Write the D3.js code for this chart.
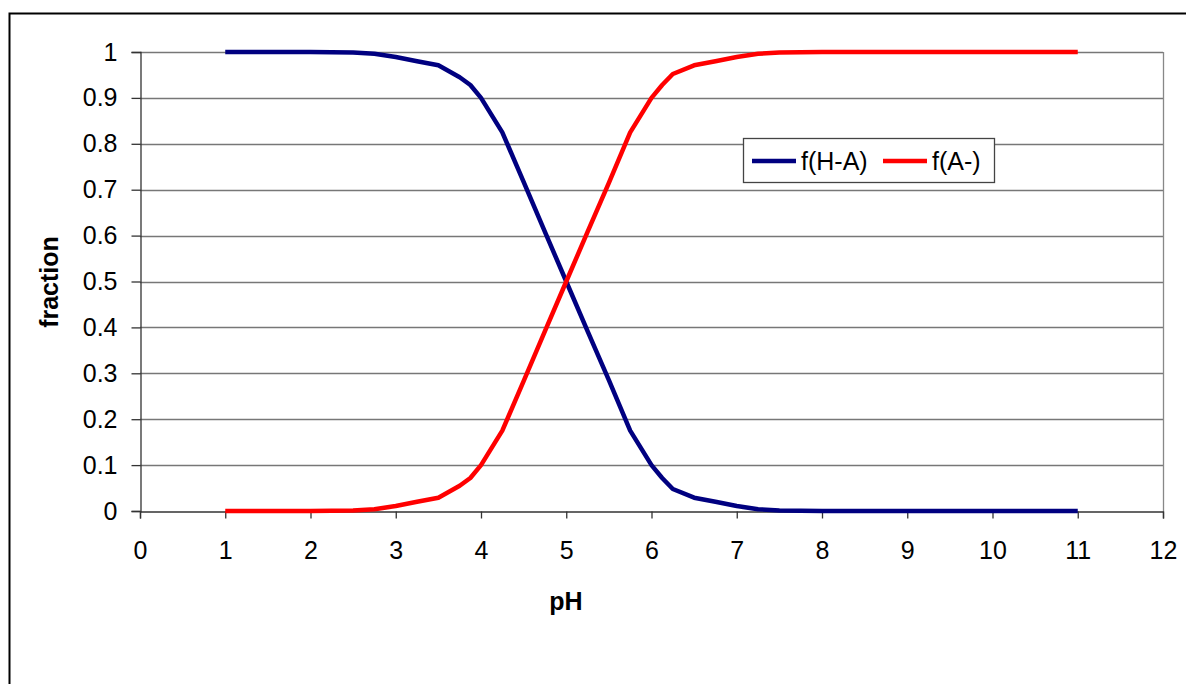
<!DOCTYPE html>
<html>
<head>
<meta charset="utf-8">
<script src="https://cdn.jsdelivr.net/npm/d3@7"></script>
<style>
  body { margin: 0; background: #fff; }
  text { font-family: Arial, 'Liberation Sans', sans-serif; }
</style>
</head>
<body>
<div id="canvas"></div>
<script>
// pH points and fractions
var pH = [1, 2, 2.5, 2.75, 3, 3.25, 3.5, 3.75, 3.875, 4, 4.25, 4.5, 4.75, 5, 5.25, 5.5, 5.75, 6, 6.125, 6.25, 6.5, 6.75, 7, 7.25, 7.5, 8, 9, 10, 11]
var fHA = [1, 1, 0.999, 0.996, 0.989, 0.98, 0.971, 0.945, 0.928, 0.9, 0.825, 0.717, 0.608, 0.5, 0.392, 0.285, 0.175, 0.1, 0.072, 0.048, 0.029, 0.02, 0.011, 0.004, 0.001, 0, 0, 0, 0]
var fA = [0, 0, 0.001, 0.004, 0.011, 0.02, 0.029, 0.055, 0.072, 0.1, 0.175, 0.283, 0.392, 0.5, 0.608, 0.715, 0.825, 0.9, 0.928, 0.952, 0.971, 0.98, 0.989, 0.996, 0.999, 1, 1, 1, 1]
var seriesNames = ['f(H-A)', 'f(A-)']
var seriesColors = ['#000080', '#ff0000']
var xTicks = d3.range(0, 13)
var yTicks = [0, 0.1, 0.2, 0.3, 0.4, 0.5, 0.6, 0.7, 0.8, 0.9, 1]

var W = 1186, H = 684
var plot = {left: 140, right: 1163, top: 52, bottom: 511}
var fontSize = 25

var svg = d3.select('#canvas')
  .append('svg')
  .attr('width', W)
  .attr('height', H)

// outer chart frame (runs off the right and bottom)
svg.append('rect')
  .attr('x', 9.5).attr('y', 13.5)
  .attr('width', 1200).attr('height', 700)
  .attr('fill', 'none')
  .attr('stroke', '#000')
  .attr('stroke-width', 2)

var x = d3.scaleLinear().domain([0, 12]).range([plot.left, plot.right])
var y = d3.scaleLinear().domain([0, 1]).range([plot.bottom, plot.top])

// grid
svg.append('g')
  .selectAll('line')
  .data(yTicks.filter(d => d > 0))
  .enter()
  .append('line')
  .attr('x1', plot.left).attr('x2', plot.right)
  .attr('y1', d => Math.round(y(d)) + 0.5)
  .attr('y2', d => Math.round(y(d)) + 0.5)
  .attr('stroke', '#777')
  .attr('stroke-width', 1.3)

// right border of plot area
svg.append('line')
  .attr('x1', plot.right + 0.5).attr('x2', plot.right + 0.5)
  .attr('y1', plot.top).attr('y2', plot.bottom)
  .attr('stroke', '#888')
  .attr('stroke-width', 1.3)

// y axis
var yAxis = svg.append('g')
  .attr('transform', 'translate(' + (plot.left + 0.5) + ',0)')
  .call(d3.axisLeft(y).tickValues(yTicks).tickSize(9).tickPadding(14)
    .tickFormat(d => d3.format('~g')(d)))
yAxis.select('.domain').attr('stroke', '#333').attr('stroke-width', 1.3)
yAxis.selectAll('.tick line').attr('stroke', '#333').attr('stroke-width', 1.3)
yAxis.selectAll('.tick text')
  .attr('font-size', fontSize)
  .attr('fill', '#000')
  .style('font-family', 'Arial, Liberation Sans, sans-serif')

// x axis
var xAxis = svg.append('g')
  .attr('transform', 'translate(0,' + (plot.bottom + 0.5) + ')')
  .call(d3.axisBottom(x).tickValues(xTicks).tickSize(7).tickPadding(23)
    .tickFormat(d3.format('d')))
xAxis.select('.domain').attr('stroke', '#333').attr('stroke-width', 1.3)
xAxis.selectAll('.tick line').attr('stroke', '#333').attr('stroke-width', 1.3)
xAxis.selectAll('.tick text')
  .attr('font-size', fontSize)
  .attr('fill', '#000')
  .style('font-family', 'Arial, Liberation Sans, sans-serif')

// axis titles
svg.append('text')
  .attr('x', 566).attr('y', 610)
  .attr('text-anchor', 'middle')
  .attr('font-size', fontSize)
  .attr('font-weight', 'bold')
  .text('pH')

svg.append('text')
  .attr('transform', 'translate(58,282) rotate(-90)')
  .attr('text-anchor', 'middle')
  .attr('font-size', fontSize)
  .attr('font-weight', 'bold')
  .text('fraction')

// lines
var line = d3.line()
  .x(d => x(d[0]))
  .y(d => y(d[1]))

var series = [fHA, fA]
series.forEach((vals, i) => {
  svg.append('path')
    .datum(pH.map((p, j) => [p, vals[j]]))
    .attr('d', line)
    .attr('fill', 'none')
    .attr('stroke', seriesColors[i])
    .attr('stroke-width', 4.5)
    .attr('stroke-linejoin', 'round')
})

// legend
var legend = svg.append('g')
legend.append('rect')
  .attr('x', 743.5).attr('y', 138.5)
  .attr('width', 251).attr('height', 44)
  .attr('fill', '#fff')
  .attr('stroke', '#444')
  .attr('stroke-width', 1.3)

var legX = [752, 883]
seriesNames.forEach((name, i) => {
  legend.append('line')
    .attr('x1', legX[i]).attr('x2', legX[i] + 44)
    .attr('y1', 161).attr('y2', 161)
    .attr('stroke', seriesColors[i])
    .attr('stroke-width', 4.5)
  legend.append('text')
    .attr('x', legX[i] + 49).attr('y', 170)
    .attr('font-size', fontSize)
    .text(name)
})
</script>
</body>
</html>
